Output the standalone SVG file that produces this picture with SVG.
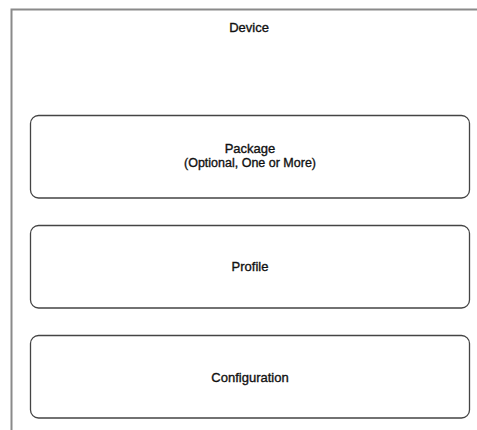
<svg xmlns="http://www.w3.org/2000/svg" width="477" height="430" viewBox="0 0 477 430">
<style>
.frame{fill:none;stroke:#8a8a8a;stroke-width:2}
.box{fill:#fff;stroke:#444;stroke-width:1.3}
.t{font-family:"Liberation Sans",Arial,sans-serif;font-size:13px;fill:#111;stroke:#111;stroke-width:0.35;text-anchor:middle}
</style>
<rect width="477" height="430" fill="#fff"/>
<g id="device">
<path class="frame" d="M478 9.5 H11.5 V431"/>
<text class="t" x="249" y="32">Device</text>
</g>
<g id="package">
<rect class="box" x="30.5" y="115.5" width="439" height="82.5" rx="8"/>
<text class="t" x="250" y="153">Package</text>
<text class="t" x="250" y="167" style="font-size:12.5px">(Optional, One or More)</text>
</g>
<g id="profile">
<rect class="box" x="30.5" y="225.5" width="439" height="82.5" rx="8"/>
<text class="t" x="250" y="271">Profile</text>
</g>
<g id="configuration">
<rect class="box" x="30.5" y="335.5" width="439" height="82.5" rx="8"/>
<text class="t" x="250" y="382">Configuration</text>
</g>
<g id="connectors"/>
</svg>
